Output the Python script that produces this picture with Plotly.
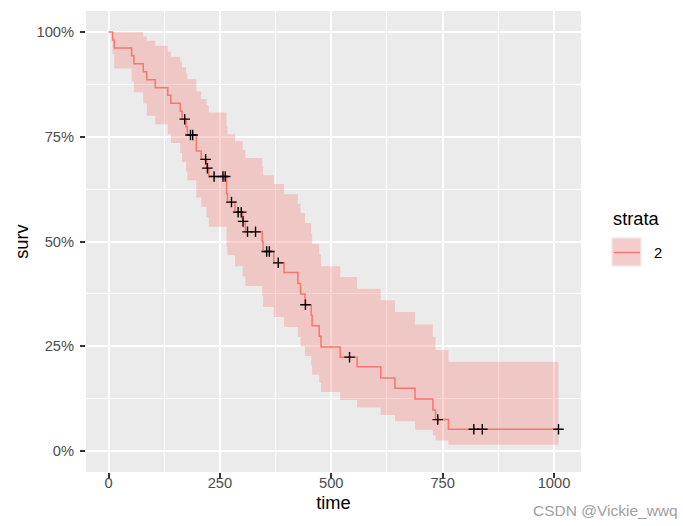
import plotly.graph_objects as go

# ---- data (Kaplan-Meier estimate, stratum "2") ----
times = [0, 9, 13, 52, 57, 78, 86, 105, 133, 140, 161, 165, 174, 177, 197, 208, 220, 225, 265, 267,
         284, 301, 307, 345, 347, 371, 394, 425, 431, 441, 455, 457, 473, 477, 520, 558, 611, 643, 688, 728,
         734, 763]
surv = [1, 0.981, 0.962, 0.943, 0.924, 0.905, 0.886, 0.867, 0.849, 0.830, 0.811, 0.792, 0.773, 0.754, 0.716,
        0.696, 0.675, 0.655, 0.614, 0.594, 0.570, 0.548, 0.523, 0.500, 0.476, 0.449, 0.426, 0.400, 0.375, 0.349,
        0.324, 0.299, 0.274, 0.248, 0.224, 0.201, 0.174, 0.150, 0.124, 0.098, 0.075, 0.052]
upper = [1, 1, 1, 1, 1, 0.989, 0.979, 0.967, 0.953, 0.941, 0.929, 0.915, 0.901, 0.887, 0.858,
         0.840, 0.825, 0.808, 0.775, 0.756, 0.739, 0.719, 0.699, 0.679, 0.658, 0.637, 0.613, 0.590, 0.568, 0.544,
         0.518, 0.494, 0.469, 0.441, 0.415, 0.387, 0.360, 0.332, 0.302, 0.273, 0.241, 0.213]
lower = [1, 0.947, 0.913, 0.882, 0.856, 0.829, 0.800, 0.780, 0.756, 0.735, 0.711, 0.689, 0.667, 0.646, 0.605,
         0.583, 0.558, 0.535, 0.487, 0.467, 0.441, 0.417, 0.394, 0.370, 0.344, 0.320, 0.296, 0.273, 0.249, 0.227,
         0.206, 0.182, 0.163, 0.141, 0.122, 0.104, 0.086, 0.071, 0.051, 0.037, 0.025, 0.015]
end_time = 1010

cens_t = [171, 184, 189, 218, 222, 237, 257, 262, 276, 291, 298, 302, 312, 330, 355, 361, 381, 442, 541,
          739, 820, 839, 1010]
cens_s = [0.792, 0.754, 0.754, 0.696, 0.675, 0.655, 0.655, 0.655, 0.594, 0.570, 0.570, 0.548, 0.523, 0.523,
          0.476, 0.476, 0.449, 0.349, 0.224, 0.075, 0.052, 0.052, 0.052]

strata_label = "2"
x_ticks = [0, 250, 500, 750, 1000]
y_ticks = [0, 0.25, 0.5, 0.75, 1.0]
# ---------------------------------------------------------------------------

RED = "#F8766D"
FONT = "Liberation Sans, Arial, sans-serif"

tx = times + [end_time]
sx = surv + [surv[-1]]
ux = upper + [upper[-1]]
lx = lower + [lower[-1]]

fig = go.Figure()
fig.add_trace(go.Scatter(x=tx, y=lx, mode="lines", line=dict(width=0, shape="hv", color=RED),
                         showlegend=False, hoverinfo="skip"))
fig.add_trace(go.Scatter(x=tx, y=ux, mode="lines", line=dict(width=0, shape="hv", color=RED),
                         fill="tonexty", fillcolor="rgba(248,118,109,0.3)", showlegend=False, hoverinfo="skip"))
fig.add_trace(go.Scatter(x=tx, y=sx, mode="lines", line=dict(width=1.5, shape="hv", color=RED),
                         showlegend=False))
fig.add_trace(go.Scatter(x=cens_t, y=cens_s, mode="markers",
                         marker=dict(symbol="cross-thin", size=7.5, line=dict(width=1.4, color="black")),
                         showlegend=False))

# plot area in pixels
L, R, T, B = 86, 581, 11, 472
W, H = 683, 526


def px(x):
    return (x - L) / (R - L)


def py(y):
    return (B - y) / (B - T)


shapes = [
    dict(type="rect", xref="paper", yref="paper", x0=px(611), x1=px(642), y0=py(267), y1=py(237),
         fillcolor="#F2F2F2", line=dict(width=0)),
    dict(type="rect", xref="paper", yref="paper", x0=px(612.5), x1=px(640.5), y0=py(265.5), y1=py(238.5),
         fillcolor="rgba(248,118,109,0.3)", line=dict(width=0)),
    dict(type="line", xref="paper", yref="paper", x0=px(614), x1=px(640), y0=py(252.5), y1=py(252.5),
         line=dict(color=RED, width=1.5)),
]

annotations = [
    dict(text="strata", xref="paper", yref="paper", x=px(611), y=py(218.5), xanchor="left", yanchor="middle",
         showarrow=False, font=dict(family=FONT, size=18.3, color="black")),
    dict(text=strata_label, xref="paper", yref="paper", x=px(652), y=py(253), xanchor="left", yanchor="middle",
         showarrow=False, font=dict(family=FONT, size=14.7, color="black")),
    dict(text="CSDN @Vickie_wwq", xref="paper", yref="paper", x=px(680), y=py(510), xanchor="right",
         yanchor="middle", showarrow=False, font=dict(family=FONT, size=15.5, color="#A0A0A0")),
]

fig.update_layout(
    width=W, height=H,
    margin=dict(l=L, r=W - R, t=T, b=H - B, pad=0),
    paper_bgcolor="white", plot_bgcolor="#EBEBEB",
    font=dict(family=FONT, color="black"),
    shapes=shapes, annotations=annotations,
    showlegend=False,
)
fig.update_xaxes(
    range=[-50.5, 1060.5], tickvals=x_ticks, ticktext=[str(v) for v in x_ticks],
    showgrid=True, gridcolor="white", gridwidth=1.6, zeroline=False, showline=False,
    ticks="outside", ticklen=5, tickwidth=1.6, tickcolor="#333333",
    tickfont=dict(family=FONT, size=14.7, color="#4D4D4D"), ticklabelstandoff=-8,
    minor=dict(tickvals=[125, 375, 625, 875], showgrid=True, gridcolor="white", gridwidth=0.8, ticks=""),
    title=dict(text="time", font=dict(family=FONT, size=18.3, color="black"), standoff=6),
)
fig.update_yaxes(
    range=[-0.05, 1.05], tickvals=y_ticks, ticktext=[f"{int(v * 100)}%" for v in y_ticks],
    showgrid=True, gridcolor="white", gridwidth=1.6, zeroline=False, showline=False,
    ticks="outside", ticklen=5, tickwidth=1.6, tickcolor="#333333",
    tickfont=dict(family=FONT, size=14.7, color="#4D4D4D"), ticklabelstandoff=3,
    minor=dict(tickvals=[0.125, 0.375, 0.625, 0.875], showgrid=True, gridcolor="white", gridwidth=0.8, ticks=""),
    title=dict(text="surv", font=dict(family=FONT, size=18.3, color="black"), standoff=3),
)

fig.write_html("out.html")
